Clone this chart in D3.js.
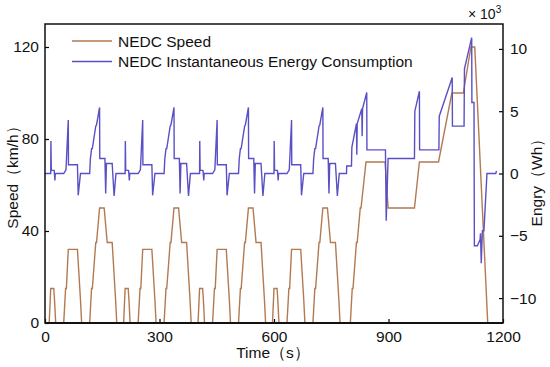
<!DOCTYPE html>
<html>
<head>
<meta charset="utf-8">
<script src="https://cdnjs.cloudflare.com/ajax/libs/d3/7.8.5/d3.min.js"></script>
<style>
  html, body { margin: 0; padding: 0; background: #fff; }
  svg { display: block; font-family: "Liberation Sans", Arial, sans-serif; }
</style>
</head>
<body>
<div id="chart"></div>
<script>
// ECE-15 urban cycle (one of four), time in s relative to cycle start
var eceTime  = [0, 11, 15, 23, 25, 28, 49, 54, 56, 61, 85, 93, 96, 117, 122, 124, 133, 135, 143, 155, 163, 176, 185, 188, 195];
var eceSpeed = [0, 0, 15, 15, 10, 0, 0, 15, 15, 32, 32, 10, 0, 0, 15, 15, 35, 35, 50, 50, 35, 35, 10, 0, 0];

// EUDC extra-urban part, absolute time in s
var eudcTime  = [780, 800, 805, 807, 816, 818, 826, 828, 841, 891, 899, 968, 981, 1031, 1066, 1096, 1116, 1126, 1160, 1180];
var eudcSpeed = [0, 0, 15, 15, 35, 35, 50, 50, 70, 70, 50, 50, 70, 70, 100, 100, 120, 120, 0, 0];

// instantaneous energy (x10^3 Wh) for one ECE cycle
var eceEnergyTime = [0, 11, 15, 15.5, 16.5, 24, 26, 27, 49, 55, 61, 61.5, 85, 87, 93, 117, 119, 122, 124, 133, 135, 143, 143.5, 157, 159, 161, 176, 181, 186, 195];
var eceEnergy     = [0, 0, 0, 2.6, 0.25, 0.25, -0.55, 0, 0, 0.3, 4.3, 0.7, 0.7, -1.75, 0, 0, 1.2, 2.0, 2.0, 3.8, 3.9, 5.3, 1.2, 1.2, -1.6, 0.8, 0.8, -1.8, 0, 0];

// energy during EUDC, absolute time
var eudcEnergyTime = [780, 790, 790.5, 803, 804, 816, 817, 818, 830, 831, 832, 843, 843.5, 892, 894, 899, 968, 969, 981, 981.5, 1032, 1033, 1067, 1067.5, 1098, 1099, 1118, 1118.5, 1124, 1125, 1133, 1140, 1141, 1143, 1146, 1150, 1158, 1181, 1183];
var eudcEnergy     = [0, 0, 0.6, 0.6, 2.1, 4.0, 1.5, 4.0, 5.2, 3.0, 5.2, 6.5, 1.9, 1.9, -3.8, 1.2, 1.2, 5.0, 6.6, 1.9, 1.9, 4.6, 7.7, 3.8, 3.8, 8.4, 10.9, 5.7, 5.7, -5.8, -5.8, -5.3, -4.8, -7.2, -4.6, -4.6, 0, 0, 0.2];

var xTicks = [0, 300, 600, 900, 1200];
var speedTicks = [0, 40, 80, 120];
var energyTicks = [-10, -5, 0, 5, 10];

(function() {
    'use strict';

    var cycleLength = 195;
    var cycleCount = 4;

    // NEDC = 4 x ECE followed by EUDC
    function buildSeries(t, v, t2, v2) {
        var out = [];
        for (var k = 0; k < cycleCount; k++) {
            t.forEach(function(d, i) {
                out.push({ t: d + k * cycleLength, v: v[i] });
            });
        }
        t2.forEach(function(d, i) {
            out.push({ t: d, v: v2[i] });
        });
        return out;
    }

    var speedData = buildSeries(eceTime, eceSpeed, eudcTime, eudcSpeed);
    var energyData = buildSeries(eceEnergyTime, eceEnergy, eudcEnergyTime, eudcEnergy);

    var width = 550, height = 367;
    var plotLeft = 45, plotRight = 503, plotTop = 24, plotBottom = 323;

    var speedColor = "#b37a52";
    var energyColor = "#5a50c6";

    var svg = d3.select("#chart").append("svg")
        .attr("width", width)
        .attr("height", height);

    var x = d3.scaleLinear().domain([0, 1200]).range([plotLeft, plotRight]);
    var ySpeed = d3.scaleLinear().domain([0, 130]).range([plotBottom, plotTop]);
    var yEnergy = d3.scaleLinear().domain([-12, 12]).range([plotBottom, plotTop]);

    svg.append("clipPath").attr("id", "plot-clip")
        .append("rect")
        .attr("x", plotLeft).attr("y", plotTop - 2)
        .attr("width", plotRight - plotLeft).attr("height", plotBottom - plotTop + 2);

    var plot = svg.append("g").attr("clip-path", "url(#plot-clip)");

    var speedLine = d3.line()
        .x(function(d) { return x(d.t); })
        .y(function(d) { return ySpeed(d.v); });

    var energyLine = d3.line()
        .x(function(d) { return x(d.t); })
        .y(function(d) { return yEnergy(d.v); });

    plot.append("path")
        .datum(speedData)
        .attr("d", speedLine)
        .style("fill", "none")
        .style("stroke", speedColor)
        .style("stroke-width", 1.4);

    plot.append("path")
        .datum(energyData)
        .attr("d", energyLine)
        .style("fill", "none")
        .style("stroke", energyColor)
        .style("stroke-width", 1.4);

    // axes, ticks pointing inward
    var xAxis = d3.axisBottom(x).tickValues(xTicks).tickSizeInner(-4).tickSizeOuter(0).tickPadding(8)
        .tickFormat(d3.format("d"));
    var leftAxis = d3.axisLeft(ySpeed).tickValues(speedTicks).tickSizeInner(-4).tickSizeOuter(0).tickPadding(6);
    var rightAxis = d3.axisRight(yEnergy).tickValues(energyTicks).tickSizeInner(-4).tickSizeOuter(0).tickPadding(7)
        .tickFormat(function(d) { return d < 0 ? "\u2212" + Math.abs(d) : d; });

    function styleAxis(g) {
        g.select(".domain").remove();
        g.selectAll("line").style("stroke", "#000").style("stroke-width", 1.2);
        g.selectAll("text").style("font-size", "15.5px").style("fill", "#111")
            .style("font-family", "'Liberation Sans', Arial, sans-serif");
    }

    svg.append("g").attr("transform", "translate(0," + plotBottom + ")").call(xAxis).call(styleAxis);
    svg.append("g").attr("transform", "translate(" + plotLeft + ",0)").call(leftAxis).call(styleAxis);
    svg.append("g").attr("transform", "translate(" + plotRight + ",0)").call(rightAxis).call(styleAxis);

    // frame
    svg.append("rect")
        .attr("x", plotLeft).attr("y", plotTop)
        .attr("width", plotRight - plotLeft).attr("height", plotBottom - plotTop)
        .style("fill", "none")
        .style("stroke", "#111")
        .style("stroke-width", 1.5);
    svg.append("line")
        .attr("x1", plotLeft).attr("x2", plotRight)
        .attr("y1", plotBottom).attr("y2", plotBottom)
        .style("stroke", "#111")
        .style("stroke-width", 2.2);

    // axis titles
    svg.append("text")
        .attr("x", (plotLeft + plotRight) / 2 - 1)
        .attr("y", 358)
        .attr("text-anchor", "middle")
        .style("font-size", "15.5px")
        .style("fill", "#111")
        .text("Time\uFF08s\uFF09");

    svg.append("text")
        .attr("transform", "translate(18," + ((plotTop + plotBottom) / 2) + ") rotate(-90)")
        .attr("text-anchor", "middle")
        .style("font-size", "15.5px")
        .style("fill", "#111")
        .text("Speed\uFF08km/h\uFF09");

    svg.append("text")
        .attr("transform", "translate(542," + ((plotTop + plotBottom) / 2 + 5) + ") rotate(-90)")
        .attr("text-anchor", "middle")
        .style("font-size", "15.5px")
        .style("fill", "#111")
        .text("Engry\uFF08Wh\uFF09");

    // exponent label above the right axis
    var expo = svg.append("text")
        .attr("x", 468)
        .attr("y", 19)
        .style("font-size", "14px")
        .style("fill", "#111");
    expo.append("tspan").text("\u00D7 10");
    expo.append("tspan").attr("dy", -6).style("font-size", "10px").text("3");

    // legend
    var legendItems = [
        { label: "NEDC Speed", color: speedColor },
        { label: "NEDC Instantaneous Energy Consumption", color: energyColor }
    ];

    var legend = svg.append("g").attr("class", "legend");
    legendItems.forEach(function(item, i) {
        var ly = 41 + i * 20.5;
        legend.append("line")
            .attr("x1", 72).attr("x2", 112)
            .attr("y1", ly).attr("y2", ly)
            .style("stroke", item.color)
            .style("stroke-width", 1.5);
        legend.append("text")
            .attr("x", 118)
            .attr("y", ly + 5.5)
            .style("font-size", "15.5px")
            .style("fill", "#111")
            .text(item.label);
    });
})();
</script>
</body>
</html>
